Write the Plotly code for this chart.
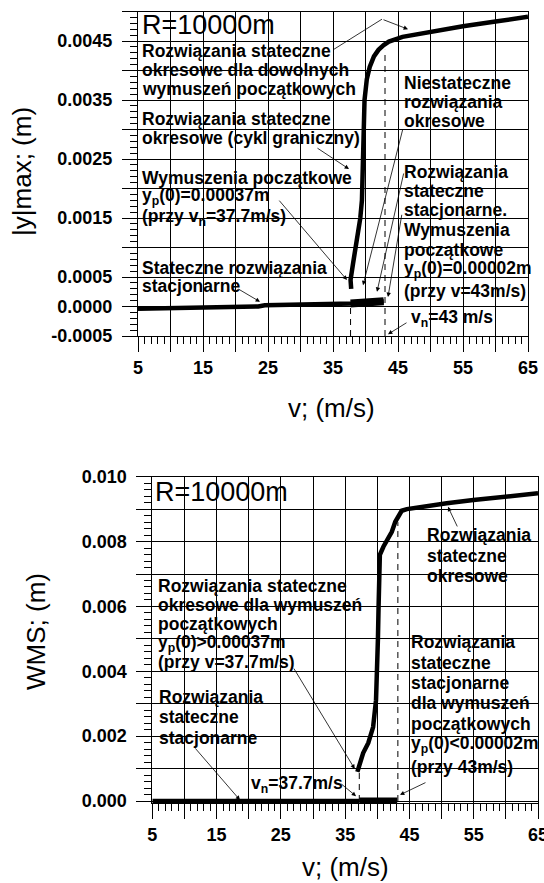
import plotly.graph_objects as go

# ---------------- data : |y|max chart ----------------
v_ymax_periodic = [37.8, 37.7, 38.1, 38.5, 38.85, 39.2, 39.45, 39.6, 39.85, 40.2, 40.65,
                   41.3, 42.0, 42.8, 43.6, 45.7, 50.0, 55.0, 60.0, 65.0]
ymax_periodic = [0.00030, 0.00045, 0.00074, 0.00100, 0.00125, 0.00150, 0.00180, 0.00290,
                 0.00350, 0.00385, 0.00406, 0.00424, 0.00435, 0.00443, 0.00449, 0.00457,
                 0.00466, 0.00475, 0.00483, 0.00491]
v_ymax_stationary = [5, 10, 15, 20, 23.5, 24.5, 30, 35, 38, 40, 42.8]
ymax_stationary = [-0.00004, -0.00003, -0.00002, -0.00001, 0.0, 0.00002, 0.00003,
                   0.00004, 0.00005, 0.00007, 0.00009]
v_ymax_overlap = [37.7, 40.0, 42.8]
ymax_overlap = [0.00005, 0.00007, 0.00009]
vn_top = [37.7, 43.0]
vn_top_upper = [0.0, 0.00435]

# ---------------- data : WMS chart ----------------
v_wms_periodic = [36.9, 37.3, 37.8, 38.6, 39.35, 39.8, 40.0, 40.1, 40.2, 40.25, 40.4, 40.95,
                  41.73, 42.26, 42.8, 43.3, 43.8, 44.6, 46.65, 50.8, 54.95, 60.0, 65.0]
wms_periodic = [0.00090, 0.00117, 0.00148, 0.00179, 0.00228, 0.00311, 0.00400, 0.00500,
                0.00600, 0.00702, 0.00759, 0.00784, 0.00810, 0.00830, 0.00861, 0.00882,
                0.00895, 0.00900, 0.00907, 0.00918, 0.00928, 0.00939, 0.00949]
v_wms_stationary = [5, 37.2]
wms_stationary = [0.0, 0.0]
v_wms_overlap = [37.2, 43.1]
wms_overlap = [0.0, 0.0]
vn_bot = [37.2, 43.2]
vn_bot_upper = [0.0009, 0.0086]

# ---------------- ticks ----------------
x_tickvals = [5, 10, 15, 20, 25, 30, 35, 40, 45, 50, 55, 60, 65]
x_ticktext = ['5', '', '15', '', '25', '', '35', '', '45', '', '55', '', '65']
y1_tickvals = [-0.0005, 0.0, 0.0005, 0.001, 0.0015, 0.002, 0.0025, 0.003, 0.0035, 0.004,
               0.0045, 0.005]
y1_ticktext = ['-0.0005', '0.0000', '0.0005', '', '0.0015', '', '0.0025', '', '0.0035', '',
               '0.0045', '']
y2_tickvals = [0.0, 0.001, 0.002, 0.003, 0.004, 0.005, 0.006, 0.007, 0.008, 0.009, 0.010]
y2_ticktext = ['0.000', '', '0.002', '', '0.004', '', '0.006', '', '0.008', '', '0.010']

FONT = 'Liberation Sans, Arial, sans-serif'
fig = go.Figure()

def line_trace(x, y, xa, ya, width, dash='solid'):
    fig.add_trace(go.Scatter(x=x, y=y, mode='lines', xaxis=xa, yaxis=ya,
                             line=dict(color='black', width=width, dash=dash),
                             hoverinfo='skip', showlegend=False))

# top chart
line_trace(v_ymax_stationary, ymax_stationary, 'x', 'y', 4.5)
line_trace(v_ymax_overlap, ymax_overlap, 'x', 'y', 8)
line_trace(v_ymax_periodic, ymax_periodic, 'x', 'y', 4.5)
for v, top in zip(vn_top, vn_top_upper):
    line_trace([v, v], [y1_tickvals[0], top], 'x', 'y', 1, dash='6px,5px')
# bottom chart
line_trace(v_wms_stationary, wms_stationary, 'x2', 'y2', 4.5)
line_trace(v_wms_overlap, wms_overlap, 'x2', 'y2', 7)
line_trace(v_wms_periodic, wms_periodic, 'x2', 'y2', 4.5)
for v, top in zip(vn_bot, vn_bot_upper):
    line_trace([v, v], [0.0, top], 'x2', 'y2', 1, dash='6px,5px')

tickfont = dict(family=FONT, size=18, color='black', weight='bold')

def xaxis_style(domain, anchor):
    return dict(domain=domain, anchor=anchor, range=[5, 65], tickmode='array',
                tickvals=x_tickvals, ticktext=x_ticktext, ticks='outside', ticklen=15,
                tickwidth=1, tickcolor='black', showgrid=True, gridcolor='black',
                gridwidth=1, zeroline=False, showline=True, linecolor='black',
                linewidth=1, mirror=True, tickfont=tickfont, ticklabelstandoff=0,
                ticklabeloverflow='allow',
                minor=dict(tick0=5, dtick=1, ticks='outside', ticklen=7, tickwidth=1,
                           tickcolor='black', showgrid=False),
                automargin=False, fixedrange=True)

def yaxis_style(domain, anchor, rng, tv, tt, mdt):
    return dict(domain=domain, anchor=anchor, range=rng, tickmode='array',
                tickvals=tv, ticktext=tt, ticks='outside', ticklen=15,
                tickwidth=1, tickcolor='black', showgrid=True, gridcolor='black',
                gridwidth=1, zeroline=False, showline=True, linecolor='black',
                linewidth=1, mirror=True, tickfont=tickfont, ticklabelstandoff=6,
                ticklabeloverflow='allow',
                minor=dict(tick0=0, dtick=mdt, ticks='outside', ticklen=7, tickwidth=1,
                           tickcolor='black', showgrid=False),
                automargin=False, fixedrange=True)

annotations = []
shapes = []

def text_block(xa, ya, x, ys, lines, size=17.5, bold=True):
    for yy, t in zip(ys, lines):
        annotations.append(dict(x=x, y=yy, xref=xa, yref=ya, text=t, showarrow=False,
                                xanchor='left', yanchor='middle', borderpad=0,
                                font=dict(family=FONT, size=size, color='black',
                                          weight='bold' if bold else 'normal')))

def arrow(xa, ya, tail, head):
    annotations.append(dict(x=head[0], y=head[1], ax=tail[0], ay=tail[1], xref=xa, yref=ya,
                            axref=xa, ayref=ya, text='', showarrow=True, arrowhead=2,
                            arrowsize=1.1, arrowwidth=0.8, arrowcolor='black',
                            standoff=0, startstandoff=0))

# ---- top chart annotations ----
text_block('x', 'y', 5.5, [0.00477], ['R=10000m'], size=27, bold=False)
text_block('x', 'y', 5.45, [0.00433, 0.00401, 0.00369],
           ['Rozwiązania stateczne', 'okresowe dla dowolnych', 'wymuszeń początkowych'])
text_block('x', 'y', 5.45, [0.00318, 0.00286],
           ['Rozwiązania stateczne', 'okresowe (cykl graniczny)'])
text_block('x', 'y', 5.45, [0.00218, 0.00186, 0.00150],
           ['Wymuszenia początkowe', 'y<sub>p</sub>(0)=0.00037m',
            '(przy v<sub>n</sub>=37.7m/s)'])
text_block('x', 'y', 5.45, [0.00065, 0.00035], ['Stateczne rozwiązania', 'stacjonarne'])
text_block('x', 'y', 45.7, [0.00379, 0.00347, 0.00314],
           ['Niestateczne', 'rozwiązania', 'okresowe'])
text_block('x', 'y', 45.7, [0.00228, 0.00196, 0.00164, 0.00130, 0.00096, 0.00062, 0.00026],
           ['Rozwiązania', 'stateczne', 'stacjonarne.', 'Wymuszenia', 'początkowe',
            'y<sub>p</sub>(0)=0.00002m', '(przy v=43m/s)'])
text_block('x', 'y', 46.8, [-0.00020], ['v<sub>n</sub>=43 m/s'])

shapes.append(dict(type='line', xref='x', yref='y', x0=35.0, y0=0.00435, x1=42.54,
                   y1=0.00487, line=dict(color='black', width=0.8)))
arrow('x', 'y', (42.54, 0.00487), (46.54, 0.00470))
arrow('x', 'y', (32.38, 0.00270), (37.46, 0.00233))
arrow('x', 'y', (26.54, 0.00182), (37.15, 0.00045))
arrow('x', 'y', (20.23, 0.00031), (23.77, 0.00008))
arrow('x', 'y', (45.77, 0.00302), (39.62, 0.00036))
arrow('x', 'y', (45.92, 0.00228), (41.77, 0.00025))
arrow('x', 'y', (45.62, 0.00158), (43.46, 0.00016))
arrow('x', 'y', (46.54, -0.00026), (43.46, -0.00047))

# ---- bottom chart annotations ----
text_block('x2', 'y2', 5.25, [0.00954], ['R=10000m'], size=27, bold=False)
text_block('x2', 'y2', 5.7, [0.00663, 0.00604, 0.00546, 0.00487, 0.00429],
           ['Rozwiązania stateczne', 'okresowe dla wymuszeń', 'początkowych',
            'y<sub>p</sub>(0)&gt;0.00037m', '(przy v=37.7m/s)'])
text_block('x2', 'y2', 5.85, [0.00321, 0.00258, 0.00194],
           ['Rozwiązania', 'stateczne', 'stacjonarne'])
text_block('x2', 'y2', 47.5, [0.00820, 0.00757, 0.00694],
           ['Rozwiązania', 'stateczne', 'okresowe'])
text_block('x2', 'y2', 45.05, [0.00490, 0.00427, 0.00364, 0.00301, 0.00237, 0.00173, 0.00105],
           ['Rozwiązania', 'stateczne', 'stacjonarne', 'dla wymuszeń', 'początkowych',
            'y<sub>p</sub>(0)&lt;0.00002m', '(przy 43m/s)'])
text_block('x2', 'y2', 20.2, [0.00052], ['v<sub>n</sub>=37.7m/s'])

arrow('x2', 'y2', (26.89, 0.00413), (36.49, 0.00099))
arrow('x2', 'y2', (11.49, 0.00167), (18.64, 0.00003))
arrow('x2', 'y2', (34.2, 0.00056), (36.7, 0.00015))
arrow('x2', 'y2', (52.55, 0.00842), (51.0, 0.00907))
arrow('x2', 'y2', (47.73, 0.00059), (43.53, 0.00019))

# ---- axis titles ----
W, H = 544, 883
def title(px, py, text, angle=0):
    annotations.append(dict(x=px / W, y=1 - py / H, xref='paper', yref='paper', text=text,
                            showarrow=False, xanchor='center', yanchor='middle',
                            textangle=angle,
                            font=dict(family=FONT, size=26, color='black')))
title(331, 408, 'v; (m/s)')
title(345, 867, 'v; (m/s)')
title(22, 172, '|y|max; (m)', -90)
title(36, 632, 'WMS; (m)', -90)

fig.update_layout(
    width=W, height=H, margin=dict(l=0, r=0, t=0, b=0),
    paper_bgcolor='white', plot_bgcolor='white', showlegend=False,
    xaxis=xaxis_style([138 / W, 528 / W], 'y'),
    yaxis=yaxis_style([1 - 336 / H, 1 - 11.5 / H], 'x', [-0.0005, 0.005],
                      y1_tickvals, y1_ticktext, 0.0001),
    xaxis2=xaxis_style([152.3 / W, 538 / W], 'y2'),
    yaxis2=yaxis_style([1 - 803.3 / H, 1 - 476.7 / H], 'x2', [-0.00007, 0.010],
                       y2_tickvals, y2_ticktext, 0.0002),
    annotations=annotations, shapes=shapes,
)

fig.write_html('out.html', config={'displayModeBar': False},
               post_script="document.body.style.margin='0';"
                           "document.body.style.overflow='hidden';")
